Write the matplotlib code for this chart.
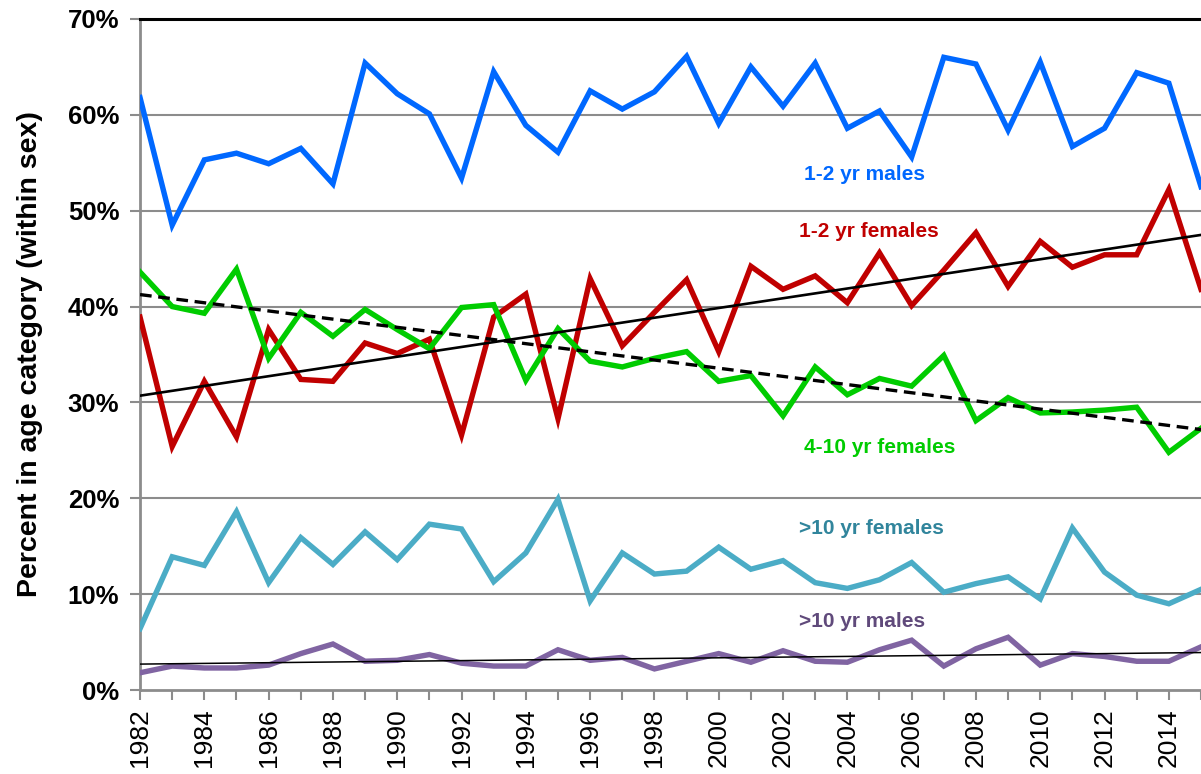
import matplotlib
matplotlib.use("Agg")
import matplotlib.pyplot as plt
import numpy as np

plt.rcParams['font.family'] = ['Liberation Sans', 'DejaVu Sans']

# Datos (porcentaje dentro de cada sexo)
years = np.arange(1982, 2016)

males_1_2 = [61.8, 48.5, 55.3, 56.0, 54.9, 56.5, 52.8, 65.4, 62.2, 60.1,
             53.4, 64.5, 58.9, 56.1, 62.5, 60.6, 62.4, 66.1, 59.1, 65.0,
             60.9, 65.4, 58.6, 60.4, 55.6, 66.0, 65.3, 58.4, 65.5, 56.7,
             58.6, 64.4, 63.3, 52.5]

females_1_2 = [38.9, 25.4, 32.2, 26.4, 37.6, 32.4, 32.2, 36.2, 35.1, 36.6,
               26.6, 38.9, 41.3, 28.3, 42.9, 35.9, 39.4, 42.8, 35.3, 44.2,
               41.8, 43.2, 40.4, 45.6, 40.1, 43.8, 47.7, 42.1, 46.8, 44.1,
               45.4, 45.4, 52.2, 41.8]

females_4_10 = [43.6, 40.0, 39.3, 43.9, 34.6, 39.4, 36.9, 39.7, 37.6, 35.6,
                39.9, 40.2, 32.3, 37.7, 34.3, 33.7, 34.6, 35.3, 32.2, 32.8,
                28.6, 33.7, 30.8, 32.5, 31.7, 34.9, 28.1, 30.5, 28.9, 29.0,
                29.2, 29.5, 24.8, 27.3]

females_10 = [6.4, 13.9, 13.0, 18.6, 11.2, 15.9, 13.1, 16.5, 13.6, 17.3,
              16.8, 11.3, 14.3, 19.9, 9.3, 14.3, 12.1, 12.4, 14.9, 12.6,
              13.5, 11.2, 10.6, 11.5, 13.3, 10.2, 11.1, 11.8, 9.5, 16.9,
              12.3, 9.9, 9.0, 10.5]

males_10 = [1.8, 2.5, 2.3, 2.3, 2.6, 3.8, 4.8, 3.0, 3.1, 3.7,
            2.8, 2.5, 2.5, 4.2, 3.1, 3.4, 2.2, 3.0, 3.8, 2.9,
            4.1, 3.0, 2.9, 4.2, 5.2, 2.5, 4.3, 5.5, 2.6, 3.8,
            3.5, 3.0, 3.0, 4.5]

fig = plt.figure(figsize=(12.01, 7.74), dpi=100)
ax = fig.add_axes([0.1166, 0.1085, 0.8834, 0.867])

grid_color = '#8c8c8c'
for v in range(10, 70, 10):
    ax.axhline(v, color=grid_color, lw=1.5, zorder=1)

lw = 3.9
ax.plot(years, males_1_2, color='#0068ff', lw=lw, zorder=3, solid_joinstyle='miter')
ax.plot(years, females_1_2, color='#c00000', lw=lw, zorder=3, solid_joinstyle='miter')
ax.plot(years, females_4_10, color='#00cc00', lw=lw, zorder=3, solid_joinstyle='miter')
ax.plot(years, females_10, color='#4bacc6', lw=lw, zorder=3, solid_joinstyle='miter')
ax.plot(years, males_10, color='#8064a2', lw=lw, zorder=3, solid_joinstyle='miter')

# Lineas de tendencia (ajuste lineal)
fit_red = np.polyfit(years, females_1_2, 1)
fit_green = np.polyfit(years, females_4_10, 1)
fit_purple = np.polyfit(years, males_10, 1)
ax.plot(years, np.polyval(fit_red, years), color='black', lw=1.9, zorder=4)
ax.plot(years, np.polyval(fit_green, years), color='black', lw=2.4,
        ls=(0, (3.5, 2)), zorder=4)
ax.plot(years, np.polyval(fit_purple, years), color='black', lw=1.1, zorder=4)

# Etiquetas de series
lab_kw = dict(fontsize=15, fontweight='bold', ha='left', va='center')
ax.text(2002.65, 53.8, '1-2 yr males', color='#0068ff', **lab_kw)
ax.text(2002.5, 47.8, '1-2 yr females', color='#c00000', **lab_kw)
ax.text(2002.65, 25.3, '4-10 yr females', color='#00cc00', **lab_kw)
ax.text(2002.5, 16.9, '>10 yr females', color='#31859c', **lab_kw)
ax.text(2002.5, 7.1, '>10 yr males', color='#604a7b', **lab_kw)

ax.set_xlim(1982, 2015)
ax.set_ylim(0, 70)

ax.set_xticks(np.arange(1982, 2015, 2))
ax.set_xticks(np.arange(1982, 2016, 1), minor=True)
ax.set_xticklabels([str(y) for y in range(1982, 2015, 2)], rotation=90, fontsize=19)
ax.set_yticks(np.arange(0, 71, 10))
ax.set_yticklabels(['%d%%' % v for v in range(0, 71, 10)], fontsize=18.5, fontweight='bold')

ax.tick_params(axis='both', which='both', color=grid_color, width=1.5, length=7, direction='out')
ax.tick_params(axis='x', pad=6)
ax.tick_params(axis='y', pad=8)

ax.spines['right'].set_visible(False)
ax.spines['top'].set_color('black')
ax.spines['top'].set_linewidth(2.2)
ax.spines['left'].set_color(grid_color)
ax.spines['left'].set_linewidth(2)
ax.spines['bottom'].set_color(grid_color)
ax.spines['bottom'].set_linewidth(2)

ax.set_ylabel('Percent in age category (within sex)', fontsize=20.5, fontweight='bold', labelpad=18)

fig.savefig('out.png', dpi=100)
